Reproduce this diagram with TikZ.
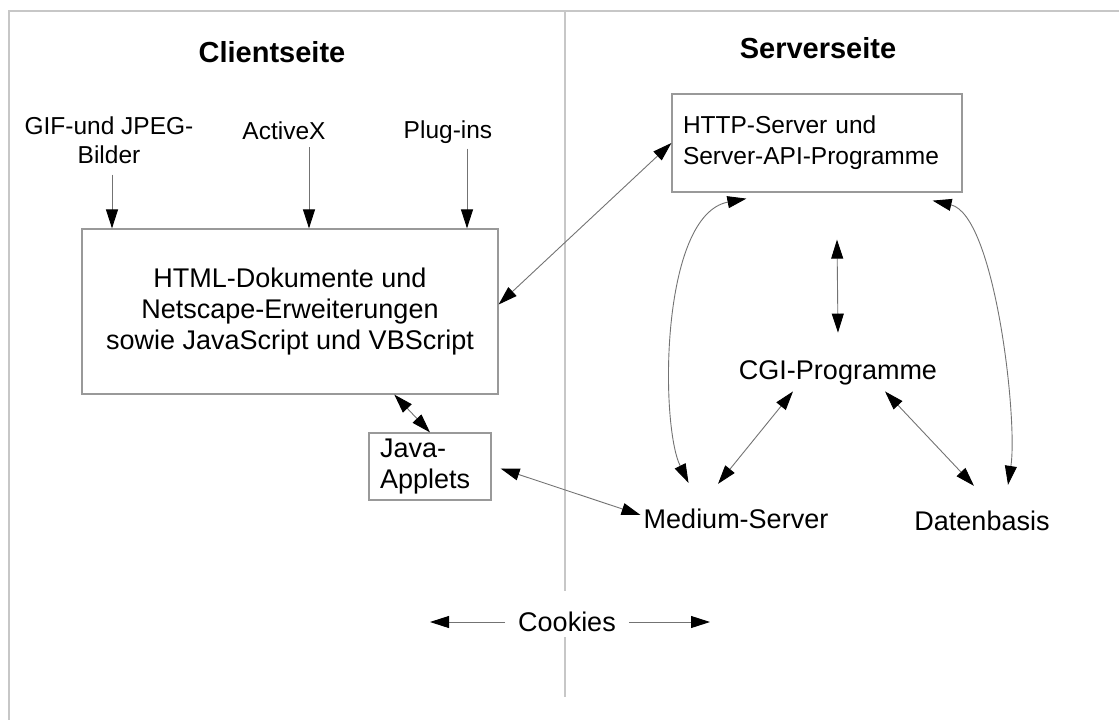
\documentclass[tikz,border=0pt]{standalone}
\usepackage{fontspec}
\setmainfont{Liberation Sans}
\usetikzlibrary{arrows.meta,calc}

\begin{document}
\begin{tikzpicture}[
  x=1pt,
  y=-1pt,
  >={Triangle[length=19pt,width=12pt,color=black]},
  frame/.style={draw=black!22, line width=2.4pt},
  title/.style={font=\fontsize{29}{34}\selectfont\bfseries, inner sep=3pt},
  plain/.style={font=\fontsize{27}{31}\selectfont, inner sep=3pt, align=center},
  small/.style={font=\fontsize{24.5}{29}\selectfont, inner sep=3pt, align=center},
  box/.style={
    draw=black!40,
    line width=1.2pt,
    font=\fontsize{27}{31}\selectfont,
    inner xsep=11pt
  },
  link/.style={draw=black!55, line width=0.9pt}
]
\useasboundingbox (0,0) rectangle (1119,720);

% ---------------------------------------------------------------------------
% frame and client/server split
% ---------------------------------------------------------------------------
\draw[frame] (9,720) -- (9,11) -- (1119,11);
\draw[frame] (565,11) -- (565,591);
\draw[frame] (565,637) -- (565,697);

\node[title] (client) at (272,52) {Clientseite};
\node[title] (server) at (818,48) {Serverseite};

% ---------------------------------------------------------------------------
% client side
% ---------------------------------------------------------------------------
\node[small] (gif) at (109,140) {GIF-und JPEG-\\Bilder};
\node[small] (activex) at (284,131) {ActiveX};
\node[small] (plugins) at (448,132) {Plug-ins};

\node[box, minimum width=416pt, minimum height=165pt, align=center] (html)
  at (290,311.5)
  {HTML-Dokumente und\\Netscape-Erweiterungen\\sowie JavaScript und VBScript};

\node[box, text width=100pt, minimum height=67pt, align=left] (java)
  at (430,466.5) {Java-\\Applets};

\draw[link, ->, shorten <=8pt] ([xshift=3pt]gif.south)
  -- ([xshift=3pt]gif.south |- html.north);
\draw[link, ->, shorten <=4pt] ([xshift=25pt]activex.south)
  -- ([xshift=25pt]activex.south |- html.north);
\draw[link, ->, shorten <=2pt] ([xshift=19pt]plugins.south)
  -- ([xshift=19pt]plugins.south |- html.north);

\draw[link, <->] ($(html.south west)!.75!(html.south east)$) -- (java.north);

% ---------------------------------------------------------------------------
% server side
% ---------------------------------------------------------------------------
\node[box, font=\fontsize{24.5}{31}\selectfont, text width=268pt,
  minimum height=98pt, align=left] (http)
  at (817,143) {HTTP-Server und\\Server-API-Programme};

\node[plain] (cgi) at (838,373) {CGI-Programme};
\node[plain] (medium) at (736,519) {Medium-Server};
\node[plain] (daten) at (982,521) {Datenbasis};

\draw[link, <->] ($(html.east)+(0,-7)$) -- (http.west);
\draw[link, <->] ($(java.east)+(9,2)$) -- ($(medium.west)+(0,-4)$);

\draw[link, <->] ($(cgi.north)+(0,-25)$) -- ($(http.south)+(20,47)$);
\draw[link, <->] ($(cgi.south)+(-45,3)$) -- ($(medium.north)+(-18,-22)$);
\draw[link, <->] ($(cgi.south)+(47,3)$) -- ($(daten.north)+(-8,-22)$);

\draw[link, <->] ($(http.south west)+(75,6)$)
  .. controls (660,215) and (660,425) .. ($(medium.north west)+(48,-23)$);
\draw[link, <->] ($(http.south east)+(-30,8)$)
  .. controls (995,215) and (1018,420) .. ($(daten.north)+(26,-23)$);

% ---------------------------------------------------------------------------
% cookies
% ---------------------------------------------------------------------------
\node[plain] (cookies) at (567,622) {Cookies};
\coordinate (ckleft) at (430,622);
\coordinate (ckright) at (710,622);
\draw[link, ->, shorten <=10pt] (cookies.west) -- (ckleft);
\draw[link, ->, shorten <=10pt] (cookies.east) -- (ckright);
\end{tikzpicture}
\end{document}
